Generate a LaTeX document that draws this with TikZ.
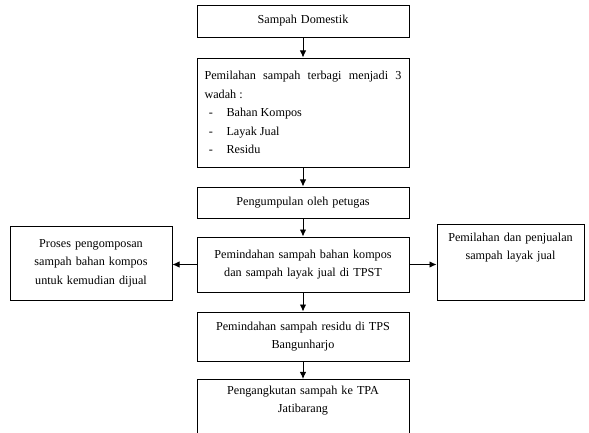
\documentclass[tikz,border=0pt]{standalone}
\usepackage{fontspec}
\setmainfont{Liberation Serif}
\usetikzlibrary{shapes, arrows.meta, positioning}
\newcommand{\dashitem}[1]{\makebox[0.66cm][l]{\hspace*{0.13cm}-}#1}

\begin{document}
\begin{tikzpicture}
            \tikzset{box/.style = {draw, rectangle, line width=0.8pt, inner xsep=0.225cm, inner ysep=0.14cm, font=\fontsize{10.4}{15.8}\selectfont},
                     edge/.style = {->, > = {Latex[length=6pt,width=5.5pt]}, line width=0.8pt}}
            \useasboundingbox (0,0) rectangle (17.67,12.96);
            \clip (0,0) rectangle (17.67,12.96);
            % vertices
            \node[box, align=center, text width=5.91cm, minimum height=0.96cm] (b1) at (9.09,12.33) {Sampah Domestik};
            \node[box, align=justify, text width=5.91cm, minimum height=3.27cm] (b2) at (9.09,9.585) {Pemilahan sampah terbagi menjadi 3\linebreak wadah :\\
                \dashitem{Bahan Kompos}\\
                \dashitem{Layak Jual}\\
                \dashitem{Residu}};
            \node[box, align=center, text width=5.91cm, minimum height=0.93cm] (b3) at (9.09,6.885) {Pengumpulan oleh petugas};
            \node[box, align=center, text width=5.91cm, minimum height=1.65cm] (b4) at (9.09,5.025) {Pemindahan sampah bahan kompos\\dan sampah layak jual di TPST};
            \node[box, align=center, text width=4.41cm, minimum height=2.22cm] (bl) at (2.73,5.07) {Proses pengomposan\\sampah bahan kompos\\untuk kemudian dijual};
            \node[box, align=center, text width=3.96cm, anchor=north, text height=0.37cm, text depth=1.63cm] (br) at (15.315,6.24) {Pemilahan dan penjualan\\sampah layak jual};
            \node[box, align=center, text width=5.91cm, minimum height=1.47cm] (b5) at (9.09,2.865) {Pemindahan sampah residu di TPS\\Bangunharjo};
            \node[box, align=center, text width=5.91cm, anchor=north, text height=0.31cm, text depth=1.27cm] (b6) at (9.09,1.59) {Pengangkutan sampah ke TPA\\Jatibarang};
            %edges
            \draw[edge] (b1) to (b2);
            \draw[edge] (b2) to (b3);
            \draw[edge] (b3) to (b4);
            \draw[edge] (b4) to (b5);
            \draw[edge] (b5) to (b6);
            \draw[edge] (b4.west) to (b4.west -| bl.east);
            \draw[edge] (b4.east) to (b4.east -| br.west);
        \end{tikzpicture}
\end{document}
